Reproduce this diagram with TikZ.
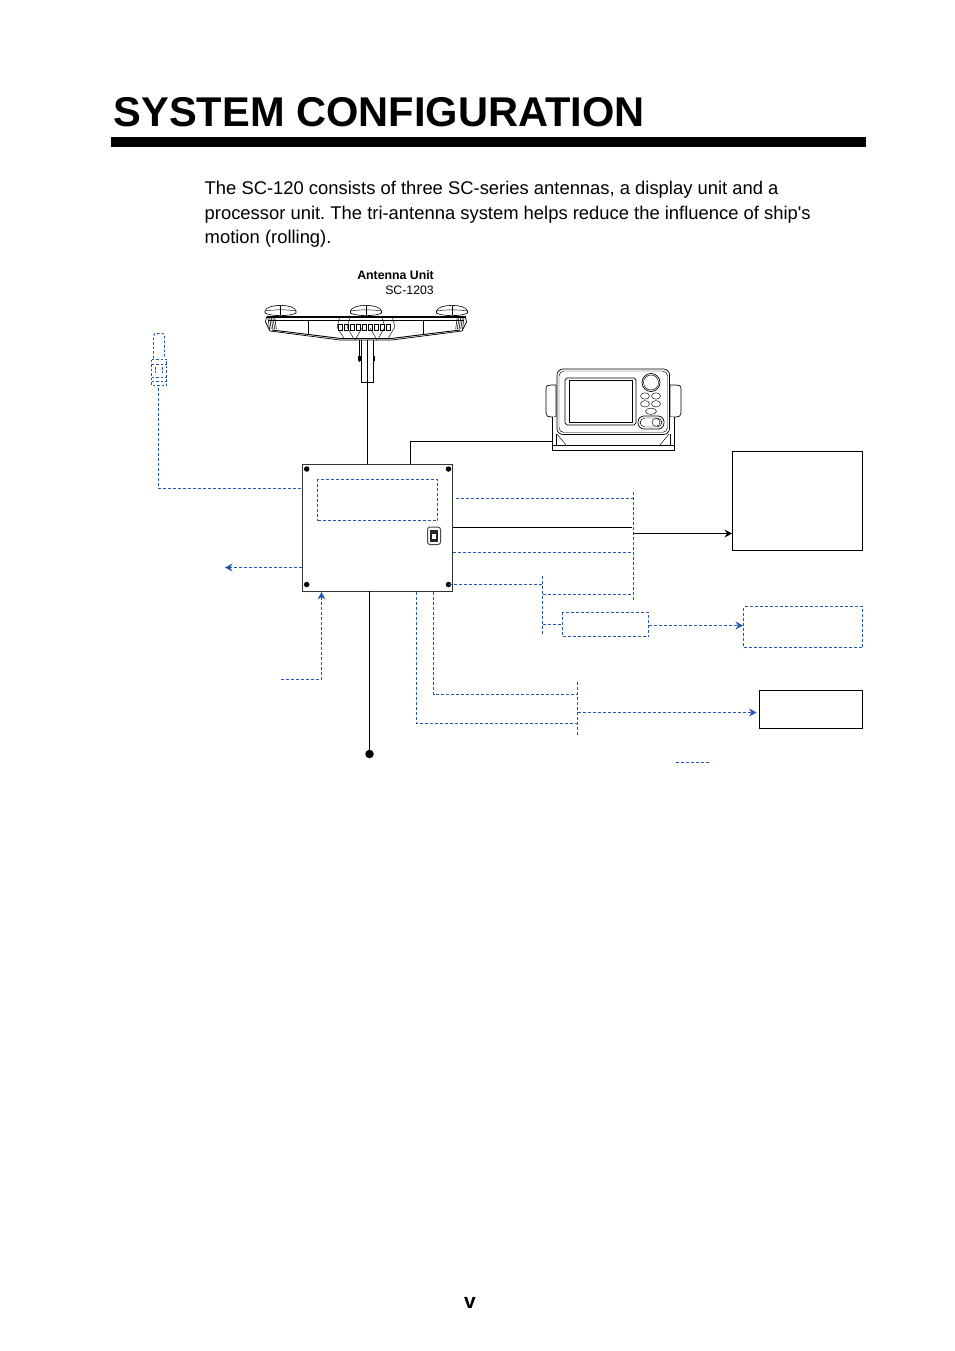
\documentclass[tikz,border=0pt]{standalone}
\usepackage{fontspec}
\setmainfont{Liberation Sans}
\newfontfamily\plainsans{Liberation Sans}
\usetikzlibrary{arrows.meta,calc}
\definecolor{cableblue}{HTML}{2456AE}
\frenchspacing
\tikzset{
 x=1pt,y=-1pt,
 wire/.style={draw=black,line width=1pt},
 bwire/.style={draw=cableblue,line width=1pt,dash pattern=on 3pt off 2pt},
 sbox/.style={draw=black,line width=1pt,inner sep=0pt,fill=white},
 dbox/.style={draw=cableblue,line width=1pt,dash pattern=on 3pt off 2pt,inner sep=0pt},
 sarrow/.style={wire,-{Stealth[length=7.5pt,width=8pt,inset=2.5pt]}},
 barrow/.style={bwire,-{Stealth[length=7.5pt,width=8pt,inset=2.5pt,color=cableblue,fill=cableblue,sep=0pt]}},
 hole/.style={circle,fill=black,inner sep=0pt,minimum size=5.5pt},
 art/.style={draw=black,line width=.7pt,fill=white},
 thin art/.style={draw=black,line width=.45pt},
 bodytext/.style={anchor=base west,inner sep=0pt,font=\fontsize{18.4}{18}\selectfont},
}
\begin{document}
\begin{tikzpicture}
\useasboundingbox (0,0) rectangle (954,1351);
\fill[white] (0,0) rectangle (954,1351);

% title
\node[anchor=base west,inner sep=0pt,font=\fontsize{41.6}{42}\selectfont\bfseries] (title) at (113.5,126.5) {SYSTEM CONFIGURATION};
\node[fill=black,minimum width=755pt,minimum height=10pt,inner sep=0pt,anchor=north west] (rule) at (111,137) {};
\node[bodytext] (t1) at (204.5,195) {The SC-120 consists of three SC-series antennas, a display unit and a};
\node[bodytext] (t2) at (204.5,219) {processor unit. The tri-antenna system helps reduce the influence of ship{\plainsans '}s};
\node[bodytext] (t3) at (204.5,243) {motion (rolling).};
\node[anchor=base east,inner sep=0pt,font=\fontsize{12.3}{12}\selectfont\bfseries] (ant1) at (434,279) {Antenna Unit};
\node[anchor=base east,inner sep=0pt,font=\fontsize{12.3}{12}\selectfont] (ant2) at (434,294) {SC-1203};
\node[anchor=base,inner sep=0pt,font=\fontsize{21}{21}\selectfont\bfseries] (page) at (470,1308) {v};

% boxes
\node[sbox,draw=black!80,minimum width=150.5pt,minimum height=127pt] (main) at (377.3,527.5) {};
\node[sbox,minimum width=130pt,minimum height=99pt] (ext1) at (797.5,501) {};
\node[sbox,minimum width=103pt,minimum height=38pt] (ext3) at (811,709.5) {};
\node[dbox,minimum width=120pt,minimum height=41pt] (inner) at (377.5,500) {};
\node[dbox,minimum width=86pt,minimum height=24pt] (mid) at (605.5,624.5) {};
\node[dbox,minimum width=119pt,minimum height=41pt] (ext2) at (803,627) {};
\node[hole] (h1) at (306.7,469) {};
\node[hole] (h2) at (448.5,469) {};
\node[hole] (h3) at (306.7,584.5) {};
\node[hole] (h4) at (448.5,584.5) {};
\node[draw=black!70,line width=1pt,rounded corners=2.5pt,minimum width=13pt,minimum height=17.5pt,inner sep=0pt] (sw) at (434,535.8) {};
\fill[black!85] (430.3,530) rectangle (437.7,541.5);
\fill[white] (432,533.5) rectangle (436,538.8);

% buses
\coordinate (busA) at (633.5,545);
\coordinate (busB) at (542.5,600);
\coordinate (busC) at (577.5,708);
\draw[bwire] (633.5,492) -- (633.5,600);
\draw[bwire] (542.5,576) -- (542.5,635);
\draw[bwire] (577.5,682) -- (577.5,735);

% display unit
\coordinate (dispcable) at (552,441.5);
\draw[art] (546,389) .. controls (546,385.5) and (548,385) .. (551,385) -- (556,385) -- (556,417) -- (551,417) .. controls (548,417) and (546,416) .. (546,413) -- cycle;
\draw[art] (681,389) .. controls (681,385.5) and (679,385) .. (676,385) -- (670,385) -- (670,417) -- (676,417) .. controls (679,417) and (681,416) .. (681,413) -- cycle;
\draw[art] (552.5,417) -- (552.5,450) -- (674,450) -- (674,417);
\draw[thin art] (552.5,445) -- (674,445);
\draw[thin art] (556,434) -- (556,445) (670,434) -- (670,445);
\draw[thin art] (557,434) -- (566,445) (669,434) -- (660,445);
\draw[art,rounded corners=6pt] (557,369) rectangle (669.5,434.5);
\draw[thin art,rounded corners=5pt] (559,371) rectangle (667.5,432.5);
\draw[art] (567,378) -- (634,378) -- (636,380) -- (636,423) -- (634,425) -- (567,425) -- (565,423) -- (565,380) -- cycle;
\draw[thin art] (569,380.5) rectangle (632.5,422);
\draw[art] (651,382.5) circle (9pt);
\draw[thin art] (651,382.5) circle (7.5pt);
\draw[thin art] (645,396) ellipse (4.5pt and 3.2pt);
\draw[thin art] (656,396) ellipse (4.5pt and 3.2pt);
\draw[thin art] (645,403.8) ellipse (4.5pt and 3.2pt);
\draw[thin art] (656,403.8) ellipse (4.5pt and 3.2pt);
\draw[thin art] (651,411.3) ellipse (5.5pt and 3.2pt);
\draw[art,rounded corners=6pt] (638,416) rectangle (664,429);
\draw[thin art,rounded corners=5pt] (640,418) rectangle (662,427);
\draw[thin art] (656,422.3) circle (4pt);

% antenna unit
\coordinate (antfoot) at (367.5,382);
\foreach \cx in {280.5,366,452}{
  \draw[art,line width=.6pt] (\cx-15.5,311) .. controls (\cx-14,303.5) and (\cx+14,303.5) .. (\cx+15.5,311) -- (\cx+15.5,313) .. controls (\cx+10,316.5) and (\cx-10,316.5) .. (\cx-15.5,313) -- cycle;
  \draw[thin art] (\cx,305.5) -- (\cx,315);
  \draw[thin art] (\cx-15.5,311) .. controls (\cx-8,309.5) and (\cx+8,309.5) .. (\cx+15.5,311);
}
\draw[thin art] (359,340) -- (359,362) (373,340) -- (373,362);
\draw[thin art] (358,356) rectangle (360,360) (372,356) rectangle (374,360);
\draw[art,line width=.6pt] (361,338) rectangle (373.5,382);
\draw[thin art] (367,338) -- (367,382);
\draw[art,line width=.7pt] (266.5,317) -- (465.5,317) -- (466.5,322) -- (462,331) -- (392,340) -- (340,340) -- (270,331) -- (265.5,322) -- cycle;
\draw[line width=1.7pt] (266.5,317) -- (465.5,317);
\draw[line width=.9pt] (268,320.5) -- (464,320.5);
\draw[line width=.9pt] (272,330) -- (341,338.5) -- (391,338.5) -- (460,330);
\draw[thin art] (308,321) -- (308,334.5) (423,321) -- (423,334.5);
\draw[thin art] (340,316) -- (337,327) -- (342,335) -- (344,339) (392,316) -- (395,327) -- (390,335) -- (388,339);
\draw[thin art] (350,318) -- (347,327) -- (354,339) (382,318) -- (385,327) -- (378,339);
\draw[thin art] (362,328) -- (355,340) (370,328) -- (377,340);
\foreach \bx in {338,344,350,356,362,368,374,380,386}{
  \draw[line width=.65pt] (\bx,324.5) rectangle (\bx+4,330);
}
\foreach \ax/\sgn in {268/1,464/-1}{
  \foreach \k in {0,1.7,3.4,5.1,6.8}{
    \draw[line width=.55pt] (\ax+\sgn*\k,318) -- (\ax+\sgn*\k+\sgn*1.5,329);
  }
}

% GPS-type antenna (dashed, blue)
\coordinate (gpsfoot) at (158.5,388);
\draw[bwire,line width=.9pt,dash pattern=on 2.5pt off 2pt] (153.5,358) -- (153.5,336) -- (155,333.5) -- (163,333.5) -- (164.5,336) -- (164.5,358);
\draw[bwire,dash pattern=on 2.5pt off 2pt] (151.5,359.5) -- (166.5,359.5) (151.5,359.5) -- (151.5,385.5) -- (166.5,385.5) -- (166.5,359.5);
\draw[bwire,dash pattern=on 2.5pt off 2pt] (151.5,364.5) -- (166.5,364.5) (151.5,377.5) -- (166.5,377.5) (151.5,381.5) -- (166.5,381.5);
\draw[bwire,dash pattern=on 2.5pt off 1.5pt] (155.5,367) -- (155.5,373) (162.5,367) -- (162.5,373);

% connectors
\draw[wire] (antfoot) -- (antfoot |- main.north);
\draw[wire] (dispcable) -| (410.5,464);
\draw[bwire] (gpsfoot) |- (main.west |- 0,488.5);
\coordinate (leftend) at (225,567.5);
\draw[barrow] (main.west |- leftend) -- (leftend);
\coordinate (upstart) at (281,679.5);
\draw[barrow] (upstart) -| (321.5,592);
\draw[bwire] (456,498.5) -- (busA |- 0,498.5);
\draw[wire] (main.east |- 0,527.5) -- (632,527.5);
\draw[bwire] (main.east |- 0,552.5) -- (busA |- 0,552.5);
\draw[bwire] (busB |- 0,594.5) -- (busA |- 0,594.5);
\draw[sarrow] (634,533.5) -- (ext1.west |- 0,533.5);
\draw[bwire] (h4.center) -- (busB |- h4.center);
\draw[bwire] (busB |- 0,624.5) -- (mid.west |- 0,624.5);
\draw[barrow] (mid.east |- 0,625.5) -- (ext2.west |- 0,625.5);
\draw[bwire] (433.5,592) |- (busC |- 0,694.5);
\draw[bwire] (416.5,592) |- (busC |- 0,723.5);
\draw[barrow] (578,712.5) -- (756.5,712.5);
\draw[wire] (369.5,591) -- (369.5,754);
\node[circle,fill=black,inner sep=0pt,minimum size=8.5pt] (earth) at (369.5,754) {};
\coordinate (stubL) at (676,762.5);
\coordinate (stubR) at (709,762.5);
\draw[bwire] (stubL) -- (stubR);
\end{tikzpicture}
\end{document}
